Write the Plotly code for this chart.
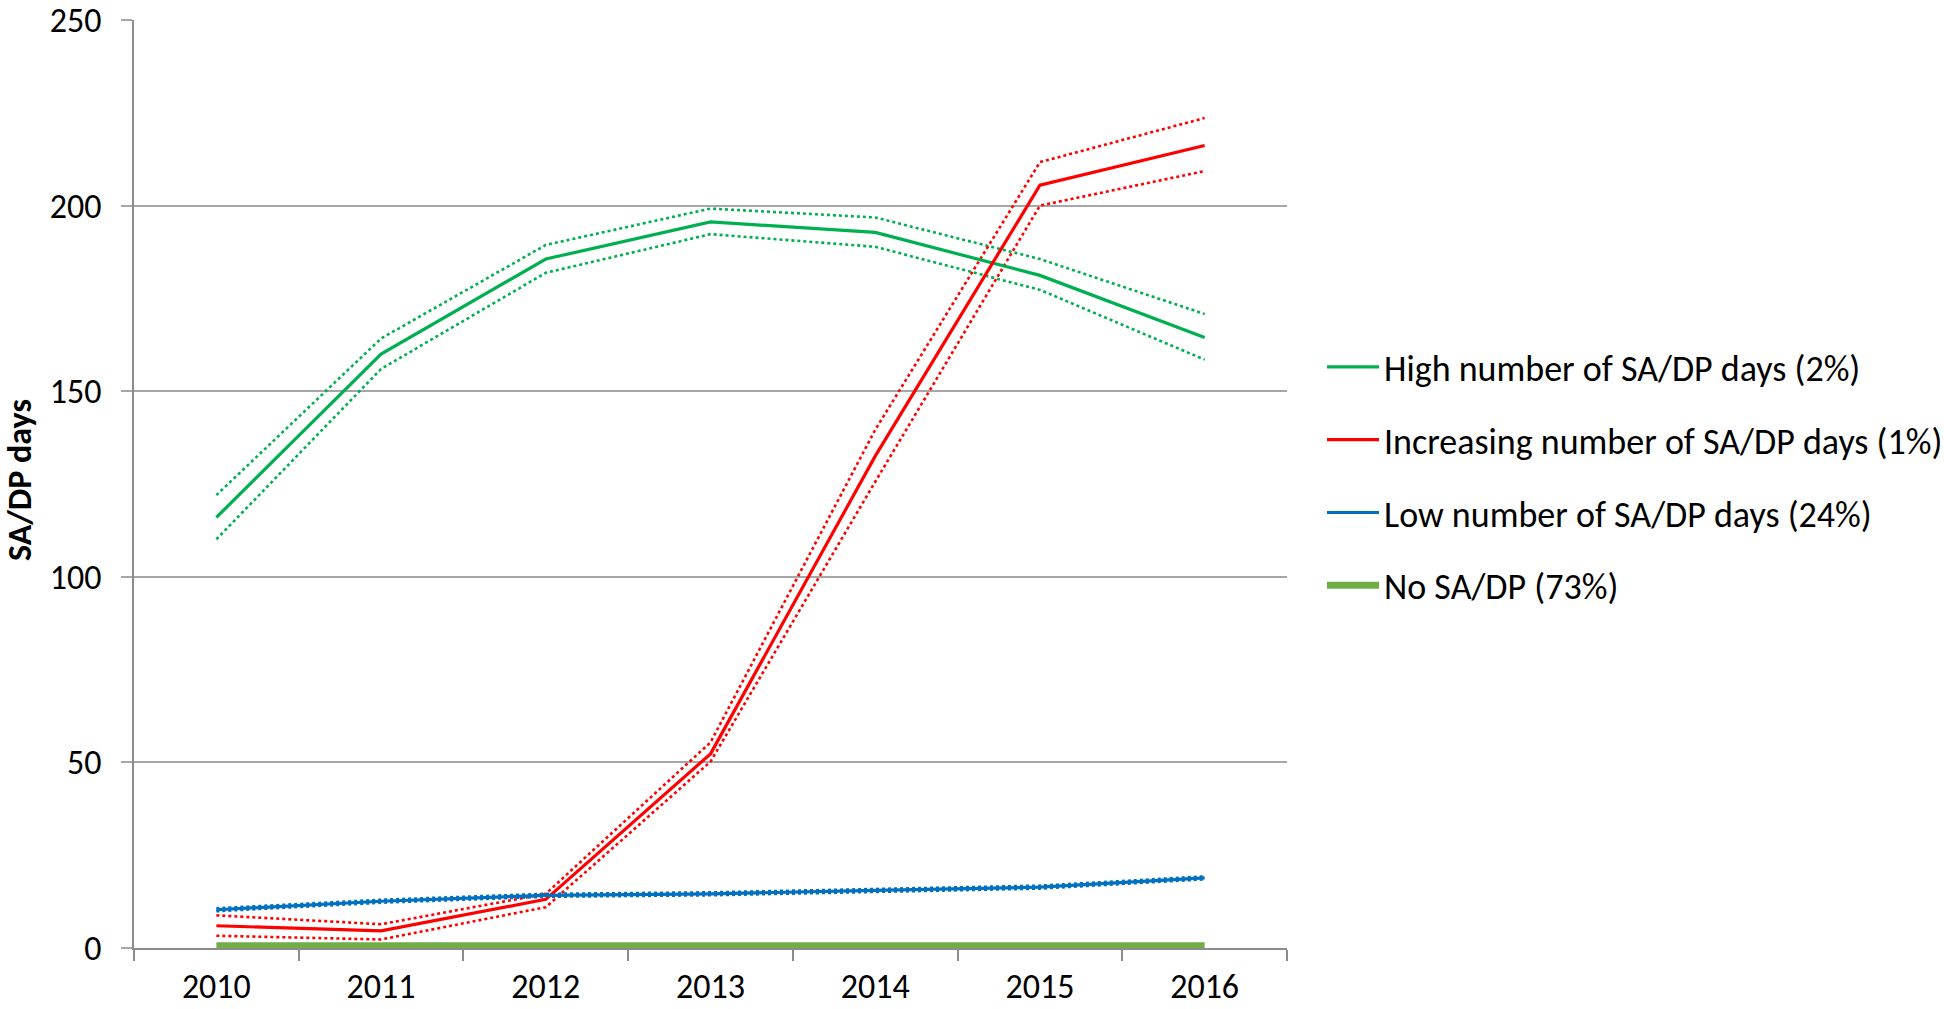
import plotly.graph_objects as go

years = ["2010", "2011", "2012", "2013", "2014", "2015", "2016"]

high_mean = [116.0, 160.0, 185.6, 195.6, 192.8, 181.2, 164.5]
high_upper = [122.0, 164.2, 189.4, 199.2, 196.8, 185.6, 170.8]
high_lower = [110.1, 156.0, 181.9, 192.3, 188.9, 177.3, 158.5]

inc_mean = [6.0, 4.6, 13.1, 52.3, 132.5, 205.5, 216.2]
inc_upper = [8.8, 6.4, 14.6, 55.4, 139.6, 211.7, 223.6]
inc_lower = [3.3, 2.3, 11.0, 50.2, 125.6, 200.0, 209.3]

low_mean = [10.3, 12.6, 14.2, 14.6, 15.5, 16.4, 18.9]
low_upper = [10.7, 13.0, 14.6, 15.0, 15.9, 16.8, 19.3]
low_lower = [9.9, 12.2, 13.8, 14.2, 15.1, 16.0, 18.5]

none_mean = [0.6, 0.6, 0.6, 0.6, 0.6, 0.6, 0.6]

names = [
    "High number of SA/DP days (2%)",
    "Increasing number of SA/DP days (1%)",
    "Low number of SA/DP days (24%)",
    "No SA/DP (73%)",
]
colors = ["#00B050", "#FF0000", "#0070C0", "#70AD47"]

FONT = "Calibri, Carlito, Lato, sans-serif"

fig = go.Figure()

# Confidence bands (dotted)
for up, lo, col in [(high_upper, high_lower, colors[0]),
                    (inc_upper, inc_lower, colors[1]),
                    (low_upper, low_lower, colors[2])]:
    for arr in (up, lo):
        fig.add_trace(go.Scatter(x=years, y=arr, mode="lines",
                                 line=dict(color=col, width=2.6, dash="dot"),
                                 showlegend=False, hoverinfo="skip"))

series = [high_mean, inc_mean, low_mean, none_mean]
widths = [3.2, 3.2, 3.2, 7]
for i, (vals, nm, col, w) in enumerate(zip(series, names, colors, widths)):
    fig.add_trace(go.Scatter(x=years, y=vals, mode="lines", name=nm,
                             line=dict(color=col, width=w),
                             legendgroup=f"g{i}"))

grid = "#A6A6A6"
axis = "#8C8C8C"

fig.update_layout(
    width=1944, height=1009,
    margin=dict(l=134, r=657, t=20, b=61, autoexpand=False),
    paper_bgcolor="white", plot_bgcolor="white",
    font=dict(family=FONT, color="#000000", size=36),
    xaxis=dict(type="category", range=[-0.5, 6.5], tickson="boundaries",
               ticks="outside", ticklen=11, tickcolor=axis, tickwidth=1.5,
               showline=True, linecolor=axis, linewidth=1.5,
               showgrid=False, ticklabelstandoff=7, automargin=False,
               ticklabeloverflow="allow",
               tickfont=dict(size=34, family=FONT)),
    yaxis=dict(range=[0, 250], tickvals=[0, 50, 100, 150, 200, 250],
               ticks="outside", ticklen=11, tickcolor=grid, tickwidth=1.5,
               showline=True, linecolor=axis, linewidth=1.5,
               showgrid=True, gridcolor=grid, gridwidth=1.5,
               zeroline=False, ticklabelstandoff=13, automargin=False,
               ticklabeloverflow="allow",
               tickfont=dict(size=34, family=FONT)),
    legend=dict(xref="container", yref="container", x=1322 / 1944,
                y=1 - 337 / 1009, xanchor="left", yanchor="top",
                font=dict(size=36, family=FONT),
                tracegroupgap=23, itemwidth=52, bgcolor="rgba(0,0,0,0)"),
    annotations=[dict(text="<b>SA/DP days</b>", textangle=-90,
                      xref="paper", yref="paper", x=(19 - 134) / 1153,
                      y=(948 - 480) / 928, xanchor="center", yanchor="middle",
                      showarrow=False, font=dict(size=34, family=FONT))],
)

fig.write_html("out.html", config={"displayModeBar": False},
               post_script="document.body.style.margin='0';document.body.style.overflow='hidden';")
